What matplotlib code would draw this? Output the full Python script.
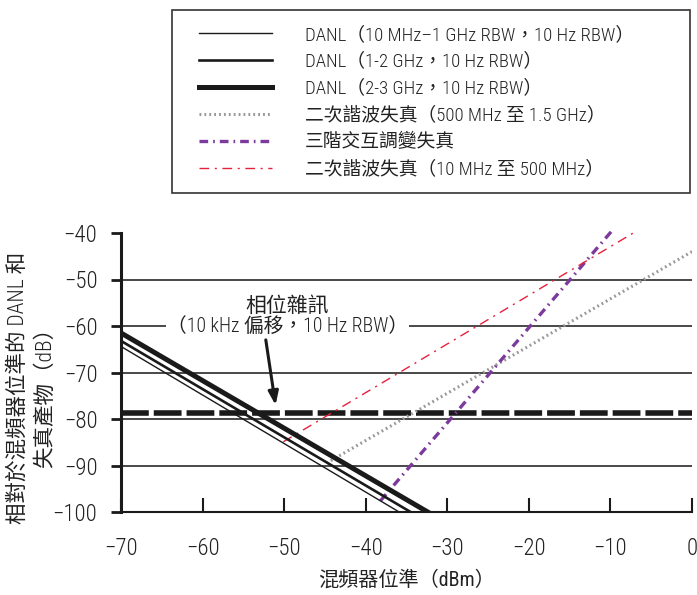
import numpy as np
import matplotlib
matplotlib.use("Agg")
import matplotlib.pyplot as plt
from matplotlib.patches import Rectangle

plt.rcParams['font.family'] = ['Roboto Condensed', 'Noto Sans CJK TC', 'DejaVu Sans']
plt.rcParams['font.weight'] = 300
plt.rcParams['axes.unicode_minus'] = True

# mixer level (dBm) vs. level relative to mixer (dB)
danl_thin_x = [-70, -35.9]
danl_thin_y = [-64.4, -100]
danl_mid_x = [-70, -34.5]
danl_mid_y = [-63.2, -100]
danl_thick_x = [-70, -32.4]
danl_thick_y = [-61.5, -100]
shd_hi_x = [-44.8, 0]
shd_hi_y = [-89.5, -44]
toi_x = [-38.2, -9.9]
toi_y = [-97.6, -39.7]
shd_lo_x = [-50.1, -7.2]
shd_lo_y = [-84.9, -40]
pn_x = [-70, 0]
pn_y = [-78.8, -78.8]

grid_levels = [-50, -60, -70, -80, -90]
xticks = [-70, -60, -50, -40, -30, -20, -10, 0]
yticks = [-40, -50, -60, -70, -80, -90, -100]

labels = ["DANL（10 MHz–1 GHz RBW，10 Hz RBW）",
          "DANL（1-2 GHz，10 Hz RBW）",
          "DANL（2-3 GHz，10 Hz RBW）",
          "二次諧波失真（500 MHz 至 1.5 GHz）",
          "三階交互調變失真",
          "二次諧波失真（10 MHz 至 500 MHz）"]

fig = plt.figure(figsize=(6.97, 5.95), dpi=100)
ax = fig.add_axes([121/697, 1-512/595, (692-121)/697, (512-233)/595])

for g in grid_levels:
    ax.plot([-70, 0], [g, g], color='#3a3a3a', lw=1.3, zorder=1)

h1, = ax.plot(danl_thin_x, danl_thin_y, color='#1a1a1a', lw=1.0, zorder=4)
h2, = ax.plot(danl_mid_x, danl_mid_y, color='#1a1a1a', lw=1.9, zorder=4)
h3, = ax.plot(danl_thick_x, danl_thick_y, color='#1a1a1a', lw=3.6, zorder=4)
h4, = ax.plot(shd_hi_x, shd_hi_y, color='#999999', lw=2.2, ls=(0, (0.6, 1.0)), zorder=3)
h5, = ax.plot(toi_x, toi_y, color='#7b3a9c', lw=2.4, ls=(0, (2.6, 1.5, 0.5, 1.5)), zorder=3, clip_on=False)
h6, = ax.plot(shd_lo_x, shd_lo_y, color='#e8203c', lw=1.0, ls=(0, (7, 4, 1.5, 4)), zorder=3, clip_on=False)
ax.plot(pn_x, pn_y, color='#1a1a1a', lw=4, ls=(0, (5, 0.9)), zorder=2)

ax.text(-49.6, -55.6, "相位雜訊", ha='center', va='center', fontsize=15, color='#222222', zorder=5)
ax.text(-49.6, -60.1, "（10 kHz 偏移，10 Hz RBW）", ha='center', va='center', fontsize=14.2,
        color='#222222', zorder=5,
        bbox=dict(facecolor='white', edgecolor='none', pad=0.5))
ax.annotate("", xy=(-51.0, -77.6), xytext=(-52.3, -62.4),
            arrowprops=dict(arrowstyle='-|>,head_length=0.8,head_width=0.3', color='#1a1a1a', lw=2.2),
            zorder=5)

ax.set_xlim(-70, 0)
ax.set_ylim(-100, -40)
ax.set_xticks(xticks)
ax.set_yticks(yticks)
ax.set_xticklabels([f"{t}".replace('-', '−') for t in xticks])
ax.set_yticklabels([f"{t}".replace('-', '−') for t in yticks])
ax.spines['top'].set_visible(False)
ax.spines['right'].set_visible(False)
ax.spines['left'].set_linewidth(2.2)
ax.spines['bottom'].set_linewidth(1.5)
ax.spines['left'].set_color('#1a1a1a')
ax.spines['bottom'].set_color('#1a1a1a')
ax.tick_params(axis='x', direction='in', length=10, width=1.5, pad=18, labelsize=16.5, colors='#1a1a1a', labelcolor='#222222')
ax.tick_params(axis='y', direction='out', length=7, width=2, pad=10, labelsize=16.5, colors='#1a1a1a', labelcolor='#222222')
ax.set_xlabel("混頻器位準（dBm）", fontsize=14.5, color='#222222', labelpad=7)

fig.text(18/697, 1-388/595, "相對於混頻器位準的 DANL 和", rotation=90, ha='center', va='center',
         fontsize=15.5, color='#222222')
fig.text(46/697, 1-392/595, "失真產物（dB）", rotation=90, ha='center', va='center',
         fontsize=15.5, color='#222222')

fig.patches.append(Rectangle((172/697, 1-193/595), 518/697, 183/595, transform=fig.transFigure,
                             facecolor='none', edgecolor='#333333', lw=1.2))
fig.legend([h1, h2, h3, h4, h5, h6], labels, loc='upper left',
           bbox_to_anchor=(182/697, 1-9/595), frameon=False, fontsize=13.5,
           handlelength=3.9, handletextpad=1.75, labelspacing=0.47, labelcolor='#222222')

fig.savefig("out.png", dpi=100)
